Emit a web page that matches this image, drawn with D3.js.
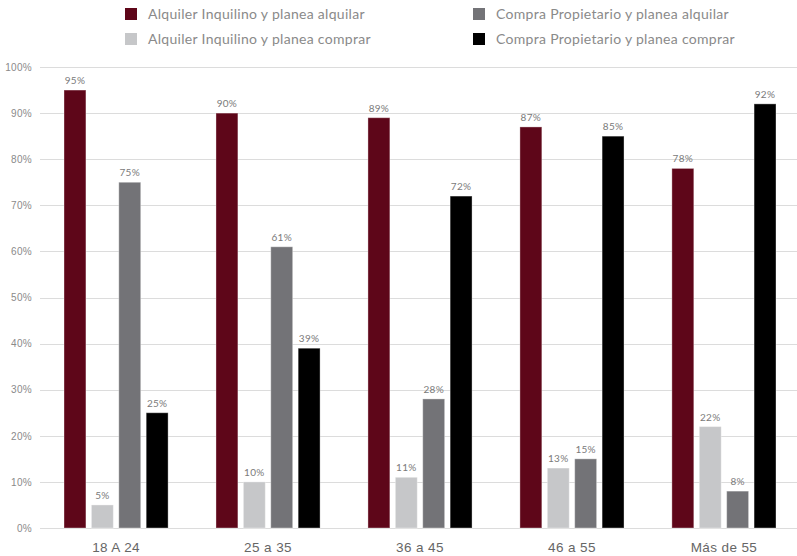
<!DOCTYPE html>
<html>
<head>
<meta charset="utf-8">
<script src="https://cdn.jsdelivr.net/npm/d3@7"></script>
<style>
  html, body { margin: 0; padding: 0; background: #fff; }
  svg { display: block; font-family: Lato, "Open Sans", sans-serif; }
</style>
</head>
<body>
<svg id="chart" width="797" height="556"></svg>
<script>
// Age groups on the x axis
const categories = ["18 A 24", "25 a 35", "36 a 45", "46 a 55", "Más de 55"];

// Series names (legend order) and colours
const seriesNames = [
  "Alquiler Inquilino y planea alquilar",
  "Alquiler Inquilino y planea comprar",
  "Compra Propietario y planea alquilar",
  "Compra Propietario y planea comprar"
];
const seriesColors = ["#5e0619", "#c6c7c9", "#737377", "#000000"];

// Percent values per series, one per age group
const alquilerAlquilar = [95, 90, 89, 87, 78];
const alquilerComprar = [5, 10, 11, 13, 22];
const compraAlquilar = [75, 61, 28, 15, 8];
const compraComprar = [25, 39, 72, 85, 92];
const seriesValues = [alquilerAlquilar, alquilerComprar, compraAlquilar, compraComprar];

// Y axis ticks
const yTicks = [0, 10, 20, 30, 40, 50, 60, 70, 80, 90, 100];

const svg = d3.select("#chart");

const plotLeft = 40, plotRight = 797, plotTop = 67, plotBottom = 528;

const y = d3.scaleLinear().domain([0, 100]).range([plotBottom, plotTop]);

const x0 = d3.scaleBand()
  .domain(categories)
  .range([plotLeft, 800])
  .paddingInner(0.315)
  .paddingOuter(0.158);

const x1 = d3.scaleBand()
  .domain(d3.range(seriesNames.length))
  .range([0, x0.bandwidth()])
  .paddingInner(0.2)
  .paddingOuter(0);

// Grid lines
svg.append("g")
  .selectAll("line")
  .data(yTicks)
  .join("line")
  .attr("x1", plotLeft)
  .attr("x2", plotRight)
  .attr("y1", d => Math.round(y(d)) + 0.5)
  .attr("y2", d => Math.round(y(d)) + 0.5)
  .attr("stroke", "#dcdcdc")
  .attr("stroke-width", 1);

// Y axis labels
const yAxis = d3.axisLeft(y)
  .tickValues(yTicks)
  .tickFormat(d => d + "%")
  .tickSize(0)
  .tickPadding(8);
const gy = svg.append("g")
  .attr("transform", `translate(${plotLeft},0)`)
  .call(yAxis);
gy.select(".domain").remove();
gy.selectAll("text")
  .attr("fill", "#8a8a8a")
  .style("font-size", "10px")
  .style("letter-spacing", "0.3px");

// X axis labels
const xAxis = d3.axisBottom(x0).tickSize(0).tickPadding(14);
const gx = svg.append("g")
  .attr("transform", `translate(0,${plotBottom})`)
  .call(xAxis);
gx.select(".domain").remove();
gx.selectAll("text")
  .attr("fill", "#666")
  .style("font-size", "13.5px")
  .style("letter-spacing", "0.4px");

// Bars
const rows = categories.map((c, i) => ({
  cat: c,
  vals: seriesValues.map((s, k) => ({ k, v: s[i] }))
}));

const groups = svg.append("g")
  .selectAll("g")
  .data(rows)
  .join("g")
  .attr("transform", d => `translate(${x0(d.cat)},0)`);

groups.selectAll("rect")
  .data(d => d.vals)
  .join("rect")
  .attr("x", d => x1(d.k))
  .attr("y", d => y(d.v))
  .attr("width", x1.bandwidth())
  .attr("height", d => y(0) - y(d.v))
  .attr("fill", d => seriesColors[d.k])
  .attr("stroke", "#ffffff")
  .attr("stroke-opacity", 0.35)
  .attr("stroke-width", 1);

groups.selectAll("text")
  .data(d => d.vals)
  .join("text")
  .attr("x", d => x1(d.k) + x1.bandwidth() / 2)
  .attr("y", d => y(d.v) - 6)
  .attr("text-anchor", "middle")
  .attr("fill", "#7a7a7a")
  .style("font-size", "10px")
  .style("letter-spacing", "0.3px")
  .text(d => d.v + "%");

// Legend (two columns, two rows)
const legendPos = [
  { x: 125, y: 8 },
  { x: 125, y: 33 },
  { x: 473, y: 8 },
  { x: 473, y: 33 }
];
const legend = svg.append("g")
  .selectAll("g")
  .data(seriesNames.map((n, k) => ({ n, k })))
  .join("g")
  .attr("transform", d => `translate(${legendPos[d.k].x},${legendPos[d.k].y})`);

legend.append("rect")
  .attr("width", 12)
  .attr("height", 12)
  .attr("fill", d => seriesColors[d.k]);

legend.append("text")
  .attr("x", 23)
  .attr("y", 6)
  .attr("dy", "0.35em")
  .attr("fill", "#8a8a8a")
  .style("font-size", "14px")
  .style("letter-spacing", "0.3px")
  .text(d => d.n);
</script>
</body>
</html>
